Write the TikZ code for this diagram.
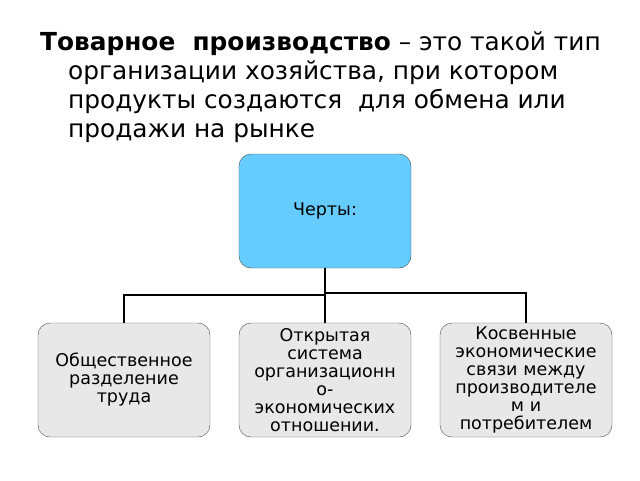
\documentclass[tikz,border=0pt]{standalone}
\usepackage{fontspec}
\setmainfont{DejaVu Sans}
\begin{document}
\begin{tikzpicture}[x=1pt,y=-1pt,
 box/.style={draw=black!70, rounded corners=12pt, minimum width=172pt, minimum height=114pt, inner sep=0pt},
 lbl/.style={align=center, font=\fontsize{17.5}{18}\selectfont, text width=200pt, inner sep=0pt},
 ln/.style={line width=1.4pt}]
\useasboundingbox (0,0) rectangle (640,480);
\node[anchor=north west, align=left, inner sep=0pt, font=\fontsize{24.8}{29}\selectfont] (t) at (40,31)
 {\textbf{Товарное\ \ производство} – это такой тип\\
 \hspace*{28pt}организации хозяйства, при котором\\
 \hspace*{28pt}продукты создаются\ \ для обмена или\\
 \hspace*{28pt}продажи на рынке};
\node[box, fill={rgb,255:red,102;green,204;blue,255}] (top) at (325,211) {};
\node[lbl] (tl) at (top) {Черты:};
\node[box, fill=gray!18] (a) at (124,380) {};
\node[box, fill=gray!18] (b) at (325,380) {};
\node[box, fill=gray!18] (c) at (526,380) {};
\node[lbl] (al) at (a) {Общественное\\разделение\\труда};
\node[lbl] (bl) at (b) {Открытая\\система\\организационн\\о-\\экономических\\отношении.};
\node[lbl] (cl) at (c) {Косвенные\\экономические\\связи между\\производителе\\м и\\потребителем};
\draw[ln] (top.south) -- (325,295) -| (a.north);
\draw[ln] (325,293) -| (c.north);
\draw[ln] (325,293) -- (b.north);
\end{tikzpicture}
\end{document}
